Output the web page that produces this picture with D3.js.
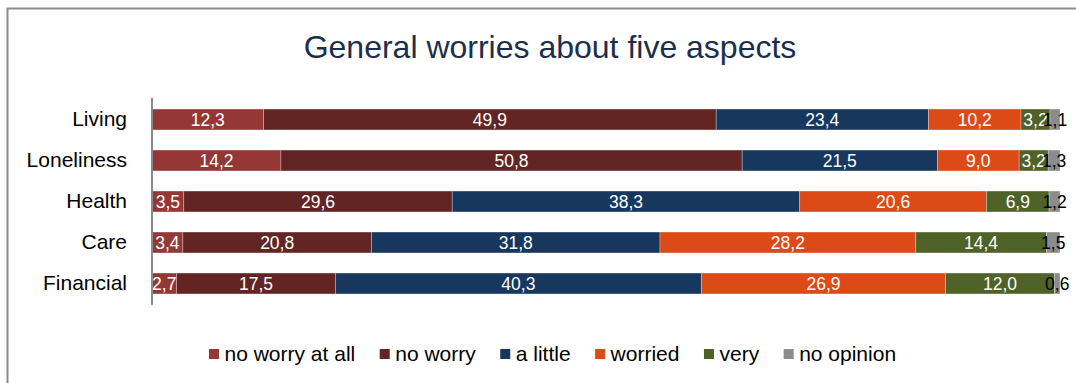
<!DOCTYPE html>
<html>
<head>
<meta charset="utf-8">
<script src="https://cdn.jsdelivr.net/npm/d3@7"></script>
<style>
  html, body { margin: 0; padding: 0; background: #fff; }
  svg { display: block; font-family: "Liberation Sans", Arial, sans-serif; }
</style>
</head>
<body>
<svg id="chart" width="1076" height="383"></svg>
<script>
// Survey answers per aspect, in percent
const categories = ["Living", "Loneliness", "Health", "Care", "Financial"];
const seriesNames = ["no worry at all", "no worry", "a little", "worried", "very", "no opinion"];
const noWorryAtAll = [12.3, 14.2, 3.5, 3.4, 2.7];
const noWorry      = [49.9, 50.8, 29.6, 20.8, 17.5];
const aLittle      = [23.4, 21.5, 38.3, 31.8, 40.3];
const worried      = [10.2, 9.0, 20.6, 28.2, 26.9];
const very         = [3.2, 3.2, 6.9, 14.4, 12.0];
const noOpinion    = [1.1, 1.3, 1.2, 1.5, 0.6];
const seriesValues = [noWorryAtAll, noWorry, aLittle, worried, very, noOpinion];
const colors = ["#953735", "#632523", "#17375E", "#DC4A17", "#4F6228", "#8C8C8C"];
const labelColors = ["#fff", "#fff", "#fff", "#fff", "#fff", "#000"];

const svg = d3.select("#chart");

// frame
svg.append("path")
  .attr("d", "M7.5,383 V8.5 H1076")
  .attr("fill", "none")
  .attr("stroke", "#8a8a8a")
  .attr("stroke-width", 2);

// title
svg.append("text")
  .attr("x", 550).attr("y", 58)
  .attr("text-anchor", "middle")
  .attr("fill", "#1B2F4D")
  .attr("font-size", 32)
  .text("General worries about five aspects");

// rows as records, stacked to 100 %
const rows = categories.map((c, i) => {
  const r = { category: c };
  seriesNames.forEach((s, j) => r[s] = seriesValues[j][i]);
  return r;
});
const stack = d3.stack().keys(seriesNames).offset(d3.stackOffsetExpand);
const layers = stack(rows);

const x = d3.scaleLinear().domain([0, 1]).range([152, 1060]);
const y = d3.scaleBand().domain(categories).range([99, 304])
  .paddingInner(0.49).paddingOuter(0.245);

const layerG = svg.append("g").selectAll("g")
  .data(layers).join("g")
  .attr("fill", (d, i) => colors[i]);

layerG.selectAll("rect")
  .data(d => d.map(p => ({ p, key: d.key })))
  .join("rect")
  .attr("x", d => x(d.p[0]))
  .attr("y", d => y(d.p.data.category))
  .attr("width", d => x(d.p[1]) - x(d.p[0]))
  .attr("height", y.bandwidth())
  .attr("stroke", "rgba(255,255,255,0.35)")
  .attr("stroke-width", 0.8);

// value labels
const labelG = svg.append("g").attr("font-size", 17.5).attr("text-anchor", "middle");
layers.forEach((layer, i) => {
  labelG.append("g").attr("fill", labelColors[i])
    .selectAll("text")
    .data(layer).join("text")
    .attr("x", d => (x(d[0]) + x(d[1])) / 2)
    .attr("y", d => y(d.data.category) + y.bandwidth() / 2)
    .attr("dy", "0.36em")
    .text(d => d3.format(".1f")(d.data[layer.key]).replace(".", ","));
});

// category axis
const yAxis = d3.axisLeft(y).tickSize(0).tickPadding(25);
const axisG = svg.append("g").attr("transform", "translate(152,0)").call(yAxis);
axisG.select(".domain").attr("stroke", "#8a8a8a").attr("stroke-width", 2)
  .attr("d", "M0,98V305");
axisG.selectAll("text").attr("font-size", 21).attr("fill", "#000")
  .attr("font-family", "'Liberation Sans', Arial, sans-serif");

// legend
const legend = svg.append("g").attr("font-size", 21);
let lx = 209;
seriesNames.forEach((name, i) => {
  const g = legend.append("g").attr("transform", `translate(${lx},0)`);
  g.append("rect").attr("x", 0).attr("y", 349).attr("width", 10).attr("height", 10)
    .attr("fill", colors[i]);
  const t = g.append("text").attr("x", 15.5).attr("y", 361).attr("fill", "#000").text(name);
  lx += 15.5 + t.node().getComputedTextLength() + 24.5;
});
</script>
</body>
</html>
